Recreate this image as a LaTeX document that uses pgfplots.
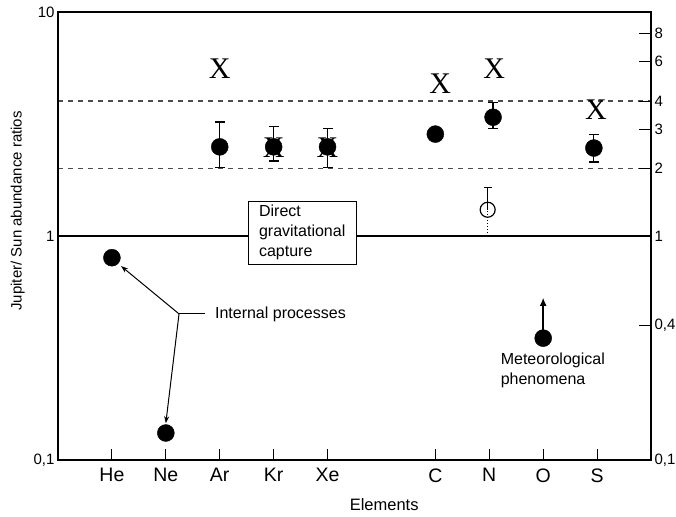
\documentclass[border=0pt]{standalone}
\usepackage{pgfplots}
\pgfplotsset{compat=1.18}
\usepackage{fontspec}
\setmainfont{Liberation Sans}
\newfontfamily\xserif{Liberation Serif}
\usetikzlibrary{arrows.meta}
\begin{document}
\begin{tikzpicture}
\begin{axis}[
  scale only axis, width=593pt, height=448pt,
  xmin=0, xmax=11, ymode=log, ymin=0.1, ymax=10,
  /pgf/number format/assume math mode=true,
  xtick={1,2,3,4,5,7,8,9,10},
  xticklabels={He,Ne,Ar,Kr,Xe,C,N,O,S},
  xtick pos=bottom, tick align=inside, major tick length=11pt,
  x tick style={line width=1pt, black},
  x tick label style={font=\fontsize{19.5}{22}\selectfont, yshift=-5pt},
  ytick={0.1,1,10}, yticklabels={{0,1},1,10},
  ytick pos=left, y tick style={draw=none}, yminorticks=false,
  y tick label style={font=\fontsize{15}{17}\selectfont},
  axis line style={line width=1.4pt},
  xlabel={Elements},
  xlabel style={at={(axis description cs:0.55,-0.1)}, anchor=center, font=\fontsize{16.5}{20}\selectfont},
  ylabel={Jupiter/ Sun abundance ratios},
  ylabel style={at={(axis description cs:-0.068,0.556)}, anchor=center, font=\fontsize{15}{18}\selectfont},
  clip=false,
]
% reference lines
\addplot[black!70, line width=1.3pt, dash pattern=on 5pt off 5pt] coordinates {(0,4) (11,4)};
\addplot[black!70, line width=1.3pt, dash pattern=on 5pt off 5pt] coordinates {(0,2) (11,2)};
\addplot[black, line width=1.8pt] coordinates {(0,1) (11,1)};
% error bars
\addplot[black, line width=1.2pt, mark=-, mark size=5pt, mark options={line width=1.2pt}, unbounded coords=jump] coordinates {
 (3,2.03) (3,3.23) (3,nan)
 (4,2.16) (4,3.07) (4,nan)
 (5,2.03) (5,3.03) (5,nan)
 (8.07,3.03) (8.07,3.93) (8.07,nan)
 (9.94,2.14) (9.94,2.85)
};
\addplot[black, line width=1.2pt, mark=-, mark size=4pt, mark options={line width=1.2pt}, mark indices={2}] coordinates {(7.97,1.31) (7.97,1.64)};
\addplot[black, line width=1pt, dotted] coordinates {(7.97,1.0) (7.97,1.31)};
% filled points
\addplot[only marks, mark=*, mark size=8.5pt, black] coordinates {
 (1,0.8) (2,0.132) (3,2.5) (4,2.5) (5,2.5) (7,2.85) (8.07,3.39) (9,0.35) (9.94,2.47)
};
% open point
\addplot[only marks, mark=o, mark size=7.5pt, mark options={fill=white, line width=1.2pt}, black] coordinates {(7.97,1.31)};
% X marks
\addplot[only marks, mark=text, text mark={X}, text mark as node=true,
  text mark style={font=\fontsize{30}{30}\xserif, inner sep=0pt, anchor=center}] coordinates {
 (3,5.56) (4,2.47) (5,2.47) (7.09,4.77) (8.09,5.56) (9.98,3.65)
};
% annotations
\node[draw, fill=white, line width=1pt, align=left, inner xsep=11pt, inner ysep=4pt,
  font=\fontsize{16}{20}\selectfont] at (axis cs:4.53,1.036) {Direct\\gravitational\\capture};
\draw[line width=1pt] (axis cs:2.73,0.449) -- (axis cs:2.245,0.449);
\draw[line width=1pt, -{Stealth[length=7pt,width=5pt]}] (axis cs:2.245,0.449) -- (axis cs:1.17,0.734);
\draw[line width=1pt, -{Stealth[length=7pt,width=5pt]}] (axis cs:2.245,0.449) -- (axis cs:2.0,0.146);
\node[anchor=west, inner sep=0pt, font=\fontsize{16}{20}\selectfont] at (axis cs:2.91,0.449) {Internal processes};
\draw[line width=1.5pt, -{Latex[length=8pt,width=7pt]}] (axis cs:9,0.35) -- (axis cs:9,0.53);
\node[anchor=north west, inner sep=0pt, align=left, font=\fontsize{16}{20}\selectfont] at (axis cs:8.21,0.30) {Meteorological\\phenomena};
\end{axis}
\begin{axis}[
  scale only axis, width=593pt, height=448pt,
  xmin=0, xmax=11, ymode=log, ymin=0.1, ymax=10,
  /pgf/number format/assume math mode=true,
  hide x axis,
  ytick={0.1,0.4,1,2,3,4,6,8}, yticklabels={{0,1},{0,4},1,2,3,4,6,8},
  ytick pos=right, yticklabel pos=right, yminorticks=false,
  tick align=inside, major tick length=12pt,
  y tick style={line width=1pt, black},
  y tick label style={font=\fontsize{15}{17}\selectfont},
  axis line style={line width=1.4pt},
]
\end{axis}
\pgfresetboundingbox
\path[use as bounding box] (-58pt,-56pt) rectangle (618pt,460pt);
\end{tikzpicture}
\end{document}
